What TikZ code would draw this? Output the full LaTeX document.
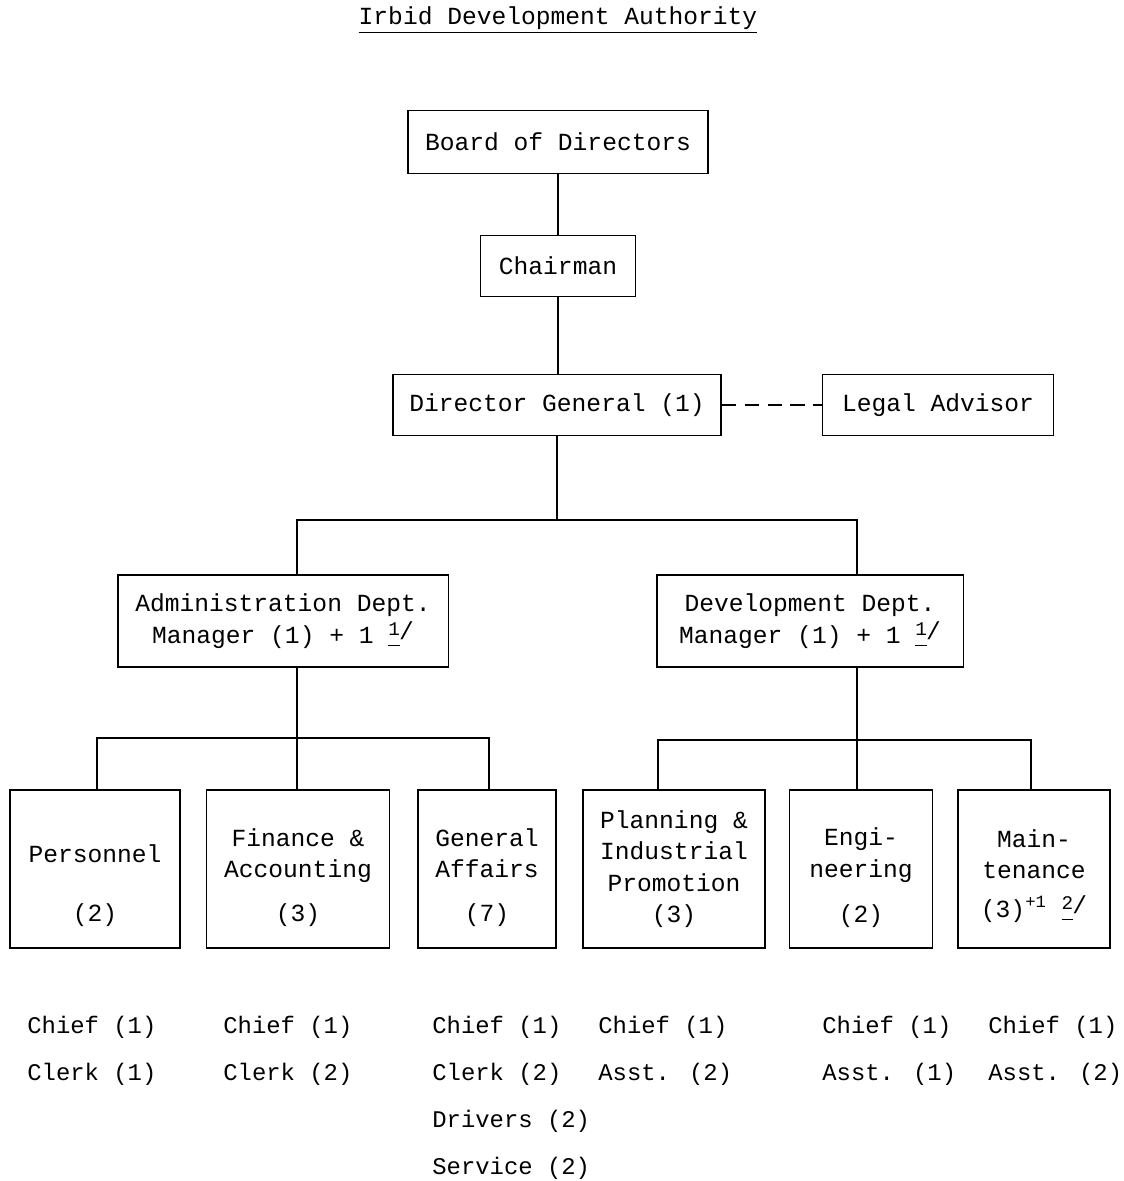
\documentclass[tikz,border=0pt]{standalone}
\usepackage{fontspec}
\setmainfont{Liberation Mono}
\usetikzlibrary{positioning}
% footnote mark: underlined raised figure and slash
\newcommand{\ftmk}[1]{\underline{\smash{\raisebox{.55ex}{\fontsize{11}{11}\selectfont #1}}}\kern-.5pt\raisebox{.3ex}{/}}

\begin{document}
\begin{tikzpicture}[x=0.02cm, y=-0.02cm,
		unit/.style={rectangle, draw, line width=1.1pt, inner sep=2pt, align=center,
			font=\fontsize{14}{17.8}\selectfont},
		dept/.style={unit, minimum height=3.16cm},
		staff/.style={anchor=north west, align=left, inner sep=0pt,
			font=\fontsize{13.6}{26.7}\selectfont},
		link/.style={line width=1.1pt},
		]
	\useasboundingbox (0,0) rectangle (1124,1181);

	% Titre
	\node[inner sep=0pt, font=\fontsize{14}{17}\selectfont] (title) at (558,20) {\underline{Irbid Development Authority}};

	% Direction
	\node[unit, minimum width=6cm, minimum height=1.26cm] (board) at (558,142) {Board of Directors};
	\node[unit, minimum width=3.1cm, minimum height=1.22cm] (chair) at (558,266) {Chairman};
	\node[unit, minimum width=6.56cm, minimum height=1.22cm] (dg) at (557,405) {Director General (1)};
	\node[unit, minimum width=4.62cm, minimum height=1.22cm] (legal) at (938,405) {Legal Advisor};

	\node[unit, minimum width=6.62cm, minimum height=1.84cm] (admin) at (283,621) {Administration Dept.\\Manager (1) + 1 \ftmk{1}};
	\node[unit, minimum width=6.14cm, minimum height=1.84cm] (dev) at (810,621) {Development Dept.\\Manager (1) + 1 \ftmk{1}};

	% Sections
	\node[dept, minimum width=3.4cm] (pers) at (95,869) {\rule{0pt}{29pt}Personnel\\[16pt](2)};
	\node[dept, minimum width=3.66cm] (fin) at (298,869) {\rule{0pt}{20pt}Finance \&\\Accounting\\[7pt](3)};
	\node[dept, minimum width=2.76cm] (gen) at (487,869) {\rule{0pt}{20pt}General\\Affairs\\[7pt](7)};
	\node[dept, minimum width=3.64cm] (plan) at (674,869) {Planning \&\\Industrial\\Promotion\\(3)};
	\node[dept, minimum width=2.86cm] (eng) at (861,869) {\rule{0pt}{20pt}Engi-\\neering\\[8pt](2)};
	\node[dept, minimum width=3.04cm] (maint) at (1034,869) {\rule{0pt}{18pt}Main-\\tenance\\[4pt](3)\textsuperscript{+1} \ftmk{2}};

	% Jonctions
	\coordinate (j0) at (557,520);
	\coordinate (j0l) at (297,520);
	\coordinate (j0r) at (857,520);
	\coordinate (j1l) at (97,738);
	\coordinate (j1r) at (489,738);
	\coordinate (j2l) at (658,740);
	\coordinate (j2r) at (1031,740);

	\draw[link] (board) -- (chair);
	\draw[link] (chair) -- (chair |- dg.north);
	\draw[link, dash pattern=on 8pt off 5pt] (dg) -- (legal);
	\draw[link] (dg) -- (j0);
	\draw[link] (j0l |- admin.north) -- (j0l) -- (j0r) -- (j0r |- dev.north);
	\draw[link] (j0l |- admin.south) -- (j0l |- fin.north);
	\draw[link] (j1l |- pers.north) -- (j1l) -- (j1r) -- (j1r |- gen.north);
	\draw[link] (j0r |- dev.south) -- (j0r |- eng.north);
	\draw[link] (j2l |- plan.north) -- (j2l) -- (j2r) -- (j2r |- maint.north);

	% Personnel
	\node[staff] (s1) at (27,1016) {Chief (1)\\Clerk (1)};
	\node[staff] (s2) at (223,1016) {Chief (1)\\Clerk (2)};
	\node[staff] (s3) at (432,1016) {Chief (1)\\Clerk (2)\\Drivers (2)\\Service (2)};
	\node[staff] (s4) at (598,1016) {Chief (1)\\Asst. (2)};
	\node[staff] (s5) at (822,1016) {Chief (1)\\Asst. (1)};
	\node[staff] (s6) at (988,1016) {Chief (1)\\Asst. (2)};
\end{tikzpicture}
\end{document}
